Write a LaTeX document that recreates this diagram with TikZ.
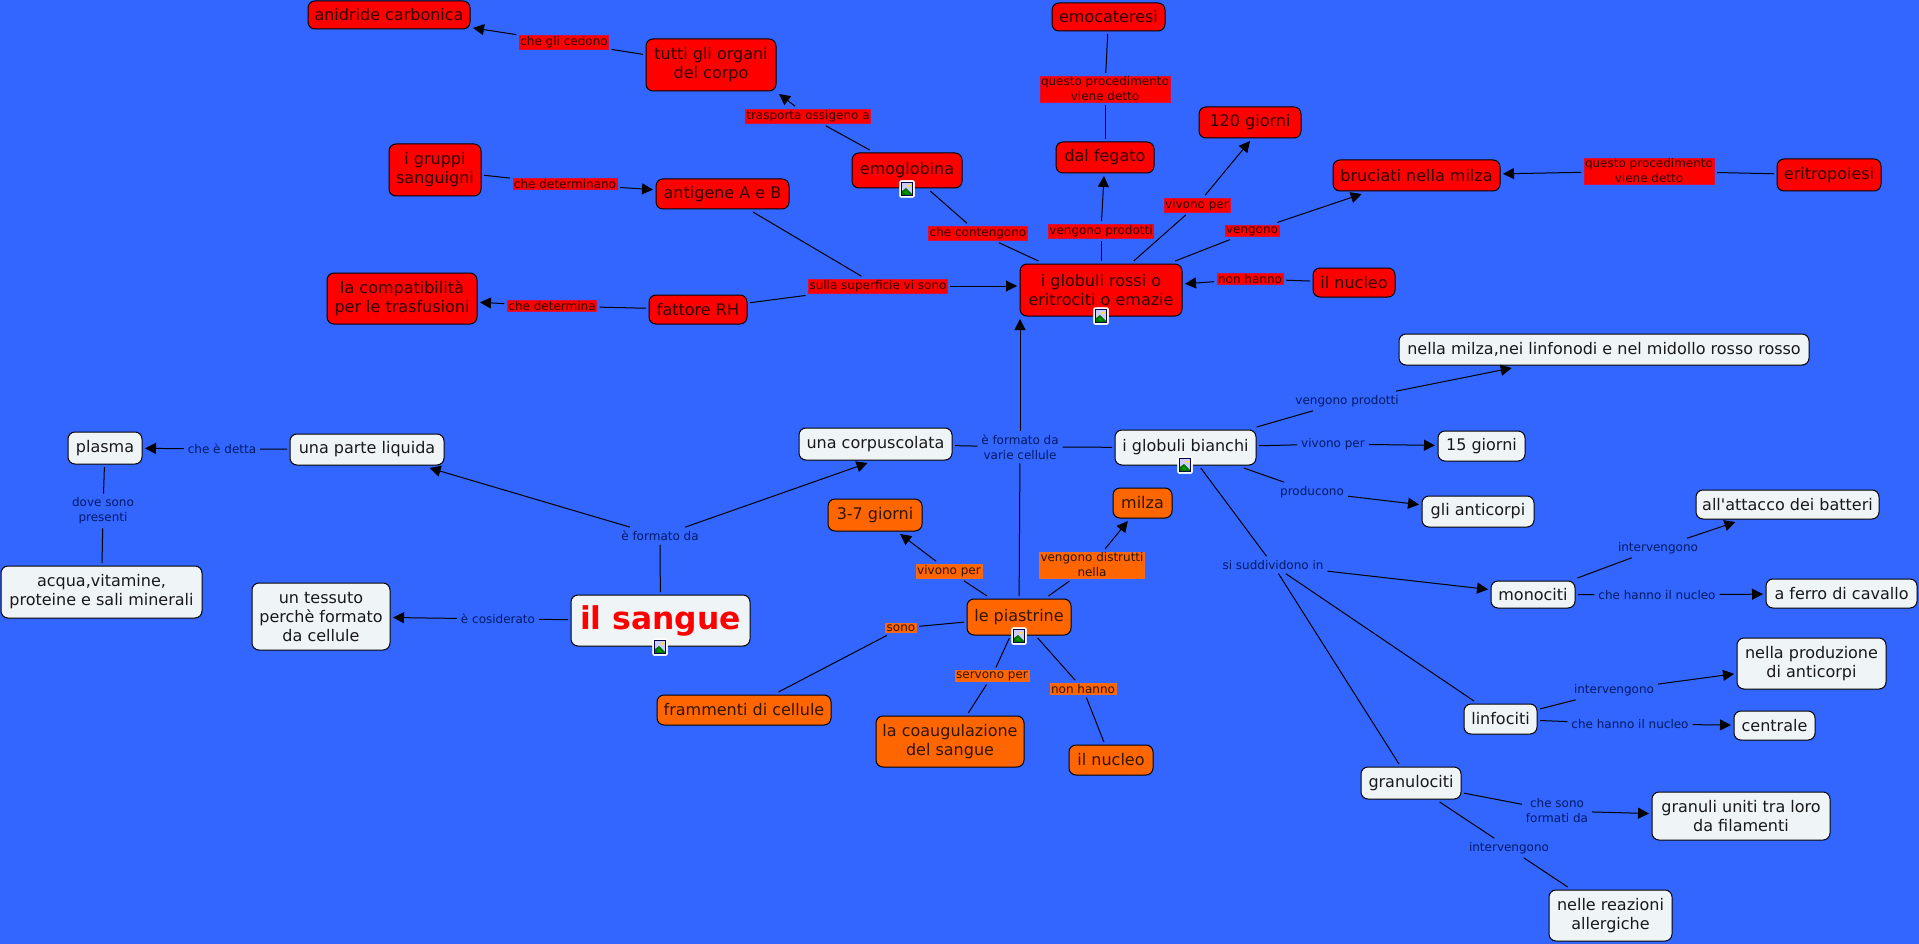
\documentclass[tikz,border=0pt]{standalone}
\usepackage{fontspec}
\setmainfont{DejaVu Sans}
\usetikzlibrary{arrows.meta,calc}
\definecolor{bgblue}{HTML}{3366FF}
\definecolor{nodewhite}{HTML}{EFF5F7}
\definecolor{nodered}{HTML}{FF0000}
\definecolor{nodeorange}{HTML}{FF6600}
\definecolor{labeltext}{HTML}{001A66}
\definecolor{redtext}{HTML}{330000}
\definecolor{orangetext}{HTML}{331400}
\definecolor{redfringe}{HTML}{D8103C}
\definecolor{orangefringe}{HTML}{F06A20}
\tikzset{
  concept/.style={draw=black,line width=1pt,rounded corners=7pt,align=center,inner sep=0pt,outer sep=3pt,
    font=\fontsize{16}{19}\selectfont},
  cwhite/.style={concept,fill=nodewhite,text=black!90},
  cred/.style={concept,fill=nodered,text=redtext},
  corange/.style={concept,fill=nodeorange,text=orangetext},
  link/.style={align=center,inner sep=1pt,outer sep=3pt,yshift=-1pt,font=\fontsize{12}{15}\selectfont},
  lblue/.style={link,text=labeltext},
  lred/.style={link,fill=nodered,draw=redfringe,line width=.5pt,text=redtext},
  lorange/.style={link,fill=nodeorange,draw=orangefringe,line width=.5pt,text=orangetext},
  conn/.style={black,line width=1pt},
  arr/.style={conn,-{Triangle[length=11pt,width=11pt]}},
  big/.style={font=\bfseries\fontsize{31.4}{36}\selectfont,text=red},
}
\newcommand\cn[7]{\pgfmathsetmacro\mycx{(#2+#4)/2}\pgfmathsetmacro\mycy{(#3+#5)/2}%
  \pgfmathsetmacro\mycw{#4-#2}\pgfmathsetmacro\mych{#5-#3}%
  \node[#6,minimum width=\mycw pt,minimum height=\mych pt] (#1) at (\mycx,\mycy) {#7};}
\newcommand\icon[3]{%
  \begin{scope}[shift={(#2,#3)}]
  \node[draw=white,fill=white,line width=.5pt,rounded corners=1.5pt,minimum width=15pt,minimum height=17pt,inner sep=0pt] (#1) at (0,0) {};
  \fill[white!80!blue] (-5.5,-6.5) rectangle (5.5,6.5);
  \draw[black!70!blue,line width=.8pt] (-5.5,-6.5) rectangle (5.5,6.5);
  \fill[yellow!90!orange] (2.3,-3.2) circle (1.6pt);
  \fill[green!45!black] (-5,6) -- (-5,2) -- (-1,-1) -- (5,5) -- (5,6) -- cycle;
  \fill[green!65!black] (-3,4) -- (-1,1.5) -- (1.5,5) -- cycle;
  \end{scope}}
\begin{document}
\begin{tikzpicture}[x=1pt,y=-1pt]
\useasboundingbox (0,0) rectangle (1919,944);
\fill[bgblue] (0,0) rectangle (1919,944);
% red concepts
\cn{anidride}{308}{1}{470}{29}{cred}{anidride carbonica}
\cn{organi}{646}{39}{776}{91}{cred}{tutti gli organi\\del corpo}
\cn{emocat}{1052}{3}{1165}{31}{cred}{emocateresi}
\cn{emog}{852}{153}{962}{188}{cred}{emoglobina}
\cn{fegato}{1056}{142}{1154}{173}{cred}{dal fegato}
\cn{cventi}{1199}{107}{1301}{138}{cred}{120 giorni}
\cn{bruciati}{1333}{160}{1500}{191}{cred}{bruciati nella milza}
\cn{eritro}{1777}{159}{1881}{191}{cred}{eritropoiesi}
\cn{gruppi}{389}{144}{481}{196}{cred}{i gruppi\\sanguigni}
\cn{antigene}{656}{179}{789}{209}{cred}{antigene A e B}
\cn{compat}{327}{273}{477}{324}{cred}{la compatibilità\\per le trasfusioni}
\cn{fattore}{649}{295}{747}{324}{cred}{fattore RH}
\cn{rossi}{1020}{264}{1182}{316}{cred}{i globuli rossi o\\eritrociti o emazie}
\cn{nucleor}{1313}{268}{1395}{297}{cred}{il nucleo}
% white concepts
\cn{milzanl}{1399}{334}{1809}{365}{cwhite}{nella milza,nei linfonodi e nel midollo rosso rosso}
\cn{plasma}{68}{432}{142}{464}{cwhite}{plasma}
\cn{liquida}{290}{434}{444}{465}{cwhite}{una parte liquida}
\cn{corpusc}{799}{428}{952}{460}{cwhite}{una corpuscolata}
\cn{bianchi}{1115}{430}{1256}{465}{cwhite}{i globuli bianchi}
\cn{quindici}{1438}{431}{1525}{461}{cwhite}{15 giorni}
\cn{anticorpi}{1422}{496}{1534}{527}{cwhite}{gli anticorpi}
\cn{attacco}{1696}{490}{1879}{519}{cwhite}{all\textquotesingle attacco dei batteri}
\cn{monociti}{1491}{581}{1575}{608}{cwhite}{monociti}
\cn{ferro}{1766}{579}{1917}{608}{cwhite}{a ferro di cavallo}
\cn{produz}{1737}{638}{1886}{689}{cwhite}{nella produzione\\di anticorpi}
\cn{linfociti}{1464}{704}{1537}{734}{cwhite}{linfociti}
\cn{centrale}{1734}{711}{1815}{740}{cwhite}{centrale}
\cn{granulo}{1361}{767}{1461}{799}{cwhite}{granulociti}
\cn{granuli}{1652}{792}{1830}{840}{cwhite}{granuli uniti tra loro\\da filamenti}
\cn{reazioni}{1549}{890}{1672}{941}{cwhite}{nelle reazioni\\allergiche}
\cn{acqua}{1}{566}{202}{618}{cwhite}{acqua,vitamine,\\proteine e sali minerali}
\cn{tessuto}{252}{583}{390}{650}{cwhite}{un tessuto\\perchè formato\\da cellule}
\cn{sangue}{571}{595}{750}{646}{cwhite,big}{il sangue}
% orange concepts
\cn{tresette}{828}{499}{922}{531}{corange}{3-7 giorni}
\cn{milza}{1113}{488}{1172}{518}{corange}{milza}
\cn{piastrine}{967}{599}{1071}{635}{corange}{le piastrine}
\cn{frammenti}{657}{695}{831}{725}{corange}{frammenti di cellule}
\cn{coagul}{876}{716}{1024}{767}{corange}{la coaugulazione\\del sangue}
\cn{nucleoo}{1069}{745}{1153}{775}{corange}{il nucleo}
% red labels
\node[lred] (lcedono) at (564,41) {che gli cedono};
\node[lred] (ltrasp) at (808,115) {trasporta ossigeno a};
\node[lred] (lproc) at (1105,88) {questo procedimento\\viene detto};
\node[lred] (lprocb) at (1649,170) {questo procedimento\\viene detto};
\node[lred] (ldeterm) at (565,183) {che determinano};
\node[lred] (lconten) at (978,232) {che contengono};
\node[lred] (lprod) at (1101,230) {vengono prodotti};
\node[lred] (lviv) at (1197,204) {vivono per};
\node[lred] (lveng) at (1252,230) {vengono};
\node[lred] (lnonh) at (1250,278) {non hanno};
\node[lred] (lsup) at (878,285) {sulla superficie vi sono};
\node[lred] (ldet) at (552,305) {che determina};
% blue labels
\node[lblue] (ldetta) at (222,448) {che è detta};
\node[lblue] (ldove) at (103,510) {dove sono\\presenti};
\node[lblue] (lform) at (660,535) {è formato da};
\node[lblue] (lcons) at (498,618) {è cosiderato};
\node[lblue] (lvarie) at (1020,446) {è formato da\\varie cellule};
\node[lblue] (lbprod) at (1347,400) {vengono prodotti};
\node[lblue] (lbviv) at (1333,443) {vivono per};
\node[lblue] (lbprd) at (1312,491) {producono};
\node[lblue] (lsudd) at (1273,564) {si suddividono in};
\node[lblue] (lmint) at (1658,547) {intervengono};
\node[lblue] (lmnuc) at (1657,594) {che hanno il nucleo};
\node[lblue] (llint) at (1614,689) {intervengono};
\node[lblue] (llnuc) at (1630,723) {che hanno il nucleo};
\node[lblue] (lgform) at (1557,810) {che sono\\formati da};
\node[lblue] (lgint) at (1509,847) {intervengono};
% orange labels
\node[lorange] (loviv) at (949,570) {vivono per};
\node[lorange] (lodis) at (1092,564) {vengono distrutti\\nella};
\node[lorange] (loson) at (901,627) {sono};
\node[lorange] (loser) at (992,675) {servono per};
\node[lorange] (lonon) at (1083,688) {non hanno};
% connectors
\draw[conn] (organi) -- (lcedono); \draw[arr] (lcedono) -- (anidride);
\draw[conn] (emog) -- (ltrasp); \draw[arr] (ltrasp) -- (organi.south east);
\draw[conn] (emocat) -- (lproc); \draw[conn] (lproc) -- (fegato);
\draw[conn] (eritro) -- (lprocb); \draw[arr] (lprocb) -- (bruciati);
\draw[conn] (gruppi) -- (ldeterm); \draw[arr] (ldeterm) -- (antigene);
\draw[conn] (emog) -- (lconten); \draw[conn] (lconten) -- (rossi);
\draw[conn] (rossi) -- (lprod); \draw[arr] (lprod) -- (fegato);
\draw[conn] (rossi) -- (lviv); \draw[arr] (lviv) -- (cventi.south);
\draw[conn] (rossi) -- (lveng); \draw[arr] (lveng) -- (bruciati);
\draw[conn] (nucleor) -- (lnonh); \draw[arr] (lnonh) -- (rossi);
\draw[conn] (antigene) -- (lsup); \draw[conn] (fattore) -- (lsup); \draw[arr] (lsup.east) -- (lsup.east -| rossi.west);
\draw[conn] (fattore) -- (ldet); \draw[arr] (ldet) -- (compat);
\draw[conn] (liquida) -- (ldetta); \draw[arr] (ldetta) -- (plasma);
\draw[conn] (plasma) -- (ldove); \draw[conn] (ldove) -- (acqua);
\draw[conn] (sangue) -- (lform); \draw[arr] (lform) -- (liquida); \draw[arr] (lform) -- ($(corpusc.south)+(-8,0)$);
\draw[conn] (sangue) -- (lcons); \draw[arr] (lcons) -- (tessuto);
\draw[conn] (corpusc) -- (lvarie); \draw[conn] (lvarie) -- (bianchi);
\draw[conn] (piastrine) -- (lvarie); \draw[arr] (lvarie) -- ($(rossi.south west)+(3,0)$);
\draw[conn] (bianchi) -- (lbprod); \draw[arr] (lbprod) -- (milzanl);
\draw[conn] (bianchi) -- (lbviv); \draw[arr] (lbviv) -- (quindici);
\draw[conn] (bianchi) -- (lbprd); \draw[arr] (lbprd) -- (anticorpi);
\draw[conn] (bianchi) -- (lsudd); \draw[arr] (lsudd) -- (monociti);
\draw[conn] (lsudd) -- (linfociti); \draw[conn] (lsudd) -- (granulo);
\draw[conn] (monociti) -- (lmint); \draw[arr] (lmint) -- (attacco);
\draw[conn] (monociti) -- (lmnuc); \draw[arr] (lmnuc) -- (ferro);
\draw[conn] (linfociti) -- (llint); \draw[arr] (llint) -- (produz);
\draw[conn] (linfociti) -- (llnuc); \draw[arr] (llnuc) -- (centrale);
\draw[conn] (granulo) -- (lgform); \draw[arr] (lgform) -- (granuli);
\draw[conn] (granulo) -- (lgint); \draw[conn] (lgint) -- (reazioni);
\draw[conn] (piastrine) -- (loviv); \draw[arr] (loviv) -- (tresette);
\draw[conn] (piastrine) -- (lodis); \draw[arr] (lodis) -- (milza);
\draw[conn] (piastrine) -- (loson); \draw[conn] (loson) -- (frammenti);
\draw[conn] (piastrine) -- (loser); \draw[conn] (loser) -- (coagul);
\draw[conn] (piastrine) -- (lonon); \draw[conn] (lonon) -- (nucleoo);
% image icons
\icon{icsangue}{660}{647}
\icon{icpiast}{1019}{636}
\icon{icemog}{907}{189}
\icon{icrossi}{1101}{316}
\icon{icbianchi}{1185}{465}
\end{tikzpicture}
\end{document}
